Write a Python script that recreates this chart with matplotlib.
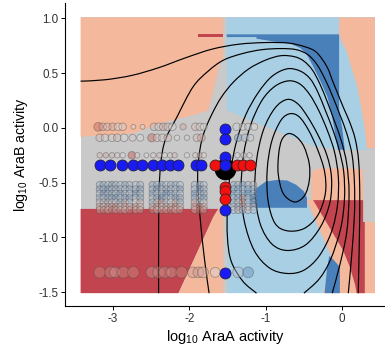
import numpy as np
import matplotlib
matplotlib.use('Agg')
import matplotlib.pyplot as plt
from matplotlib.colors import LinearSegmentedColormap, Normalize
from matplotlib.path import Path
from matplotlib.patches import PathPatch

plt.rcParams['font.family'] = ['Liberation Sans', 'DejaVu Sans']
plt.rcParams['axes.unicode_minus'] = False
plt.rcParams['mathtext.fontset'] = 'custom'
plt.rcParams['mathtext.rm'] = 'Liberation Sans'
plt.rcParams['mathtext.default'] = 'regular'

# ---------------- data ----------------
X0, X1, Y0, Y1 = -3.42, 0.427, -1.51, 1.01

region_colors = {'S': '#F4B89C', 'R': '#C2444F', 'G': '#C9C9C9',
                 'L': '#A8CFE4', 'B': '#4A80BA'}

# decision regions (category, x vertices, y vertices), painted in order
regions = [
    ('G', [X0, X1, X1, X0], [Y0, Y0, Y1, Y1]),
    ('S', [X0, -1.555, -1.555, -1.60, -1.68, -1.75, -1.95, -2.38, -2.73, X0],
          [Y1, Y1, 0.62, 0.59, 0.35, 0.16, 0.116, 0.04, -0.05, -0.08]),
    ('L', [-1.51, X1, X1, -0.05, -0.40, -0.553, -0.988, -1.51],
          [Y1, Y1, -0.20, -0.20, -0.16, -0.113, 0.008, 0.162]),
    ('B', [-1.51, -0.04, -0.04, 0.0, 0.035, -0.055, -0.10, -0.14, -0.19, -0.29,
           -0.40, -0.47, -0.55, -0.68, -0.90, -1.12, -1.12, -1.51],
          [0.855, 0.855, 0.16, 0.0, -0.20, -0.20, -0.02, 0.13, 0.28, 0.435,
           0.59, 0.68, 0.73, 0.77, 0.79, 0.815, 0.83, 0.83]),
    ('R', [-1.89, -1.56, -1.56, -1.89], [0.83, 0.83, 0.856, 0.856]),
    ('S', [-0.04, X1, X1, 0.32, 0.31, 0.28, 0.24, 0.19, 0.12, 0.06, 0.0, -0.04],
          [Y1, Y1, -0.19, -0.19, -0.10, 0.05, 0.22, 0.40, 0.55, 0.70, 0.78, 0.855]),
    ('S', [-0.40, -0.40, -0.36, -0.25, 0.10, 0.274, 0.274, X1, X1, -0.25, -0.12, -0.47],
          [-0.66, -0.42, -0.38, -0.37, -0.37, -0.38, -0.86, -0.86, Y0, Y0, -1.21, -0.66]),
    ('R', [-0.38, 0.274, 0.274, 0.296, 0.296, 0.19, 0.166, 0.10, 0.013, -0.117],
          [-0.66, -0.66, -0.86, -0.86, Y0, Y0, -1.425, -1.27, -1.12, -0.967]),
    ('L', [-1.50, -1.16, -0.47, -0.12, -0.25, -1.50],
          [-0.52, -0.54, -0.66, -1.21, Y0, Y0]),
    ('B', [-1.20, -1.20, -1.12, -1.0, -0.85, -0.72, -0.60, -0.50, -0.46, -0.46],
          [-0.73, -0.64, -0.55, -0.49, -0.475, -0.48, -0.52, -0.58, -0.64, -0.73]),
    ('B', [-0.17, -0.12, -0.03, -0.03, -0.23, -0.20],
          [-1.17, -1.20, -1.27, Y0, Y0, -1.30]),
    ('R', [X0, -1.62, -1.685, -2.14, X0], [-0.74, -0.74, -0.815, Y0, Y0]),
    ('S', [-1.62, -1.555, -1.555, -2.14, -1.685], [-0.74, -0.74, Y0, Y0, -0.815]),
]

# density contour lines (x, y, closed)
contour_lines = [
    ([-3.42, -3.1, -2.75, -2.4, -2.05, -1.7, -1.35, -1.0, -0.7, -0.48, -0.335, -0.2,
      -0.12, -0.05, 0.02, 0.10, 0.17, 0.215, 0.23, 0.225, 0.21],
     [0.427, 0.44, 0.48, 0.55, 0.64, 0.72, 0.765, 0.78, 0.775, 0.74, 0.69, 0.56,
      0.42, 0.30, 0.18, 0.05, -0.10, -0.30, -0.60, -1.0, -1.51], False),
    ([-2.40, -2.40, -2.39, -2.33, -2.16, -1.95, -1.75, -1.55, -1.3, -1.05, -0.8, -0.6,
      -0.45, -0.33, -0.22, -0.12, -0.03, 0.06, 0.13, 0.16, 0.16, 0.12, 0.08],
     [-1.51, -1.0, -0.5, -0.15, 0.10, 0.375, 0.52, 0.62, 0.68, 0.715, 0.725, 0.715,
      0.67, 0.58, 0.44, 0.28, 0.12, -0.05, -0.25, -0.5, -0.8, -1.2, -1.51], False),
    ([-1.74, -1.8, -1.86, -1.89, -1.86, -1.8, -1.7, -1.58, -1.42, -1.22, -1.0, -0.8,
      -0.62, -0.5, -0.39, -0.29, -0.19, -0.1, -0.01, 0.06, 0.09, 0.06, -0.03, -0.13],
     [-1.51, -1.2, -0.8, -0.45, -0.2, -0.03, 0.13, 0.28, 0.42, 0.54, 0.62, 0.66,
      0.65, 0.61, 0.53, 0.40, 0.23, 0.06, -0.12, -0.33, -0.6, -0.95, -1.25, -1.51], False),
    ([-1.12, -1.3, -1.45, -1.5, -1.5, -1.46, -1.38, -1.26, -1.1, -0.92, -0.72, -0.55,
      -0.42, -0.32, -0.22, -0.12, -0.04, 0.02, 0.03, -0.02, -0.15, -0.3, -0.5],
     [-1.51, -1.4, -1.22, -1.0, -0.7, -0.4, -0.12, 0.12, 0.32, 0.47, 0.54, 0.52,
      0.45, 0.33, 0.16, -0.02, -0.2, -0.4, -0.65, -0.92, -1.2, -1.38, -1.51], False),
    ([-0.72, -0.95, -1.15, -1.28, -1.32, -1.29, -1.2, -1.05, -0.88, -0.7, -0.55, -0.42,
      -0.3, -0.19, -0.1, -0.05, -0.06, -0.14, -0.3, -0.5],
     [-1.33, -1.28, -1.12, -0.85, -0.55, -0.25, 0.02, 0.25, 0.38, 0.43, 0.40, 0.30,
      0.15, -0.03, -0.22, -0.45, -0.7, -0.95, -1.17, -1.3], True),
    ([-0.72, -0.92, -1.07, -1.14, -1.12, -1.03, -0.88, -0.72, -0.58, -0.45, -0.32, -0.2,
      -0.14, -0.16, -0.28, -0.48],
     [-1.12, -1.06, -0.88, -0.6, -0.3, -0.02, 0.18, 0.26, 0.22, 0.10, -0.06, -0.25,
      -0.45, -0.68, -0.9, -1.07], True),
    ([-0.72, -0.88, -0.97, -0.98, -0.92, -0.8, -0.68, -0.56, -0.44, -0.32, -0.23, -0.22,
      -0.32, -0.5],
     [-0.94, -0.87, -0.66, -0.38, -0.12, 0.07, 0.13, 0.10, -0.02, -0.2, -0.4, -0.6,
      -0.8, -0.92], True),
    ([-0.62, -0.77, -0.836, -0.83, -0.79, -0.705, -0.6, -0.5, -0.43, -0.43, -0.49],
     [-0.677, -0.6, -0.42, -0.24, -0.11, -0.052, -0.08, -0.17, -0.33, -0.48, -0.616], True),
]

# faint points: rows of strains (y, x list, value list, size list)
row1_y = 0.01
row1_x = [-3.19, -3.13, -3.07, -3.00, -2.93, -2.87, -2.73, -2.61, -2.46, -2.40, -2.34,
          -2.28, -2.22, -2.08, -1.92, -1.86, -1.81, -1.38, -1.30, -1.23, -1.15]
row1_v = [0.7, 0.3, 0.2, 0.3, 0.0, 0.1, 0.0, 0.0, 0.2, 0.1, 0.3, 0.2, 0.0, 0.3, 0.2,
          0.1, 0.0, -0.1, 0.0, -0.1, 0.0]
row1_s = [40, 30, 30, 30, 30, 30, 12, 12, 30, 30, 30, 30, 30, 20, 30, 30, 25, 30, 25, 25, 25]

row2_y = -0.09
row2_x = [-3.17, -3.10, -3.01, -2.94, -2.85, -2.74, -2.64, -2.49, -2.42, -2.35, -2.28,
          -2.16, -2.03, -1.90, -1.84, -1.36, -1.27, -1.20]
row2_v = [0.2, 0.1, 0.1, 0.2, 0.0, 0.1, 0.0, 0.7, 0.2, 0.1, 0.2, 0.0, 0.1, 0.2, 0.3,
          -0.5, -0.3, -0.1]
row2_s = [30, 30, 30, 30, 30, 25, 25, 35, 30, 30, 30, 15, 15, 30, 30, 30, 30, 25]

row3_y = -0.25
row3_x = [-3.17, -3.09, -3.01, -2.94, -2.87, -2.75, -2.68, -2.56, -2.47, -2.39, -2.32,
          -2.25, -2.19, -2.03, -1.92, -1.86, -1.81, -1.37, -1.29, -1.21]
row3_v = [0.2, 0.3, 0.2, 0.1, 0.0, 0.8, 0.1, 0.0, 0.1, 0.2, 0.0, 0.1, 0.2, 0.0, 0.1,
          0.3, 0.0, 0.0, 0.1, 0.0]
row3_s = [15, 15, 15, 15, 15, 30, 15, 12, 15, 15, 15, 15, 15, 15, 15, 15, 15, 15, 15, 15]

cluster_x = [-3.17, -3.12, -3.06, -3.01, -2.96, -2.90, -2.84, -2.78, -2.70, -2.64,
             -2.48, -2.42, -2.36, -2.30, -2.24, -2.18, -2.12, -1.93, -1.86, -1.81,
             -1.42, -1.36, -1.30, -1.23, -1.16]
cluster_y = [-0.52, -0.56, -0.60, -0.64, -0.68, -0.72, -0.75]
cluster_v = [
    [-0.3, -0.4, -0.2, -0.5, -0.3, -0.2, -0.4, -0.3, -0.2, -0.3, -0.4, -0.3, -0.5,
     -0.2, -0.3, -0.4, -0.2, -0.3, -0.5, -0.2, -0.4, -0.3, -0.5, -0.3, -0.2],
    [-0.5, -0.3, -0.6, -0.2, -0.4, -0.3, -0.2, -0.4, -0.3, -0.5, -0.3, -0.6, -0.2,
     -0.4, -0.3, -0.2, -0.5, -0.2, -0.6, -0.3, -0.3, -0.5, -0.2, -0.4, -0.3],
    [-0.2, -0.6, -0.3, -0.4, -0.2, -0.5, -0.3, -0.2, -0.6, -0.3, -0.5, -0.2, -0.3,
     -0.6, -0.4, -0.3, -0.2, -0.6, -0.3, -0.4, -0.5, -0.2, -0.4, -0.6, -0.3],
    [-0.4, -0.2, -0.5, -0.3, -0.6, -0.2, -0.4, -0.5, -0.2, -0.4, -0.2, -0.4, -0.6,
     -0.3, -0.2, -0.5, -0.4, -0.4, -0.2, -0.5, -0.2, -0.4, 0.5, -0.3, -0.4],
    [0.2, -0.3, 0.3, -0.2, 0.1, -0.4, 0.3, -0.2, 0.0, 0.2, -0.3, 0.2, 0.4, -0.2, 0.0,
     0.3, -0.3, 0.3, -0.2, 0.1, -0.3, 0.2, 0.5, -0.2, -0.3],
    [0.4, 0.2, 0.5, 0.3, 0.6, 0.2, 0.4, 0.3, 0.5, 0.2, 0.3, 0.5, 0.2, 0.4, 0.3, 0.6,
     0.2, 0.5, 0.7, 0.3, 0.2, -0.3, 0.4, -0.2, 0.1],
    [0.3, 0.5, 0.2, 0.6, 0.3, 0.4, 0.2, 0.5, 0.3, 0.4, 0.5, 0.2, 0.4, 0.3, 0.5, 0.2,
     0.4, 0.3, 0.6, 0.4, -0.2, 0.3, -0.3, 0.2, -0.2],
]
cluster_s = 25

row4_y = -1.32
row4_x = [-3.17, -3.03, -2.97, -2.86, -2.73, -2.49, -2.40, -2.32, -2.23, -2.10, -1.95,
          -1.88, -1.82, -1.66, -1.36, -1.23]
row4_v = [0.5, 0.5, 0.4, 0.5, 0.5, 0.4, 0.5, 0.5, 0.4, 0.5, 0.4, 0.4, 0.3, 0.0, -0.2, -0.6]
row4_s = [70, 70, 60, 70, 70, 70, 70, 70, 60, 70, 60, 60, 60, 50, 60, 60]

# highlighted single mutants
wt_x, wt_y = -1.532, -0.372
hrow_y = -0.335
hrow_blue_x = [-3.17, -3.03, -2.88, -2.73, -2.62, -2.47, -2.36, -2.25, -2.14, -1.91, -1.84]
hrow_red_x = [-1.66, -1.38, -1.30, -1.21]
hcol_x = -1.532
hcol_blue_y = [-0.006, -0.098, -0.265, -0.34, -0.75, -1.323]
hcol_red_y = [-0.54, -0.58, -0.65]

x_ticks = [-3, -2, -1, 0]
y_ticks = [-1.5, -1.0, -0.5, 0.0, 0.5, 1.0]

# ---------------- figure ----------------
fig = plt.figure(figsize=(3.85, 3.51), dpi=100)
ax = fig.add_axes([0.1696, 0.128, 0.8304, 0.863])
ax.set_xlim(-3.62, 0.56)
ax.set_ylim(-1.628, 1.14)

for cat, xs, ys in regions:
    ax.fill(xs, ys, color=region_colors[cat], lw=0, zorder=0)


def smooth_path(xs, ys, closed):
    P = np.column_stack([xs, ys])
    n = len(P)
    if closed:
        E = np.vstack([P[-1], P, P[0], P[1]])
        segs = n
    else:
        E = np.vstack([P[0], P, P[-1]])
        segs = n - 1
    verts = [E[1]]
    codes = [Path.MOVETO]
    for i in range(segs):
        p0, p1, p2, p3 = E[i], E[i + 1], E[i + 2], E[i + 3]
        verts += [p1 + (p2 - p0) / 6, p2 - (p3 - p1) / 6, p2]
        codes += [Path.CURVE4] * 3
    return Path(verts, codes)


for xs, ys, closed in contour_lines:
    ax.add_patch(PathPatch(smooth_path(xs, ys, closed), fill=False,
                           edgecolor='black', lw=0.85, zorder=2))

cmap = LinearSegmentedColormap.from_list('rb', ['#1F5FA8', '#DADADA', '#C0392B'])
norm = Normalize(-1, 1)
edge = (0.3, 0.3, 0.3, 0.45)


def faint(xs, ys, vs, ss):
    fc = cmap(norm(np.asarray(vs, float)))
    fc[:, 3] = 0.45
    ax.scatter(xs, ys, s=ss, c=fc, edgecolors=[edge], linewidths=0.6, zorder=3)


faint(row1_x, [row1_y] * len(row1_x), row1_v, row1_s)
faint(row2_x, [row2_y] * len(row2_x), row2_v, row2_s)
faint(row3_x, [row3_y] * len(row3_x), row3_v, row3_s)
for yy, vv in zip(cluster_y, cluster_v):
    faint(cluster_x, [yy] * len(cluster_x), vv, [cluster_s] * len(cluster_x))
faint(row4_x, [row4_y] * len(row4_x), row4_v, row4_s)

ax.scatter([wt_x], [wt_y], s=210, c='black', edgecolors='black', zorder=4)
ax.scatter(hrow_blue_x, [hrow_y] * len(hrow_blue_x), s=62, c='#1A1AF5',
           edgecolors='#202040', linewidths=0.6, zorder=5)
ax.scatter(hrow_red_x, [hrow_y] * len(hrow_red_x), s=62, c='#F51010',
           edgecolors='#402020', linewidths=0.6, zorder=5)
ax.scatter([hcol_x] * len(hcol_blue_y), hcol_blue_y, s=62, c='#1A1AF5',
           edgecolors='#202040', linewidths=0.6, zorder=5)
ax.scatter([hcol_x] * len(hcol_red_y), hcol_red_y, s=62, c='#F51010',
           edgecolors='#402020', linewidths=0.6, zorder=5)

for side in ['top', 'right']:
    ax.spines[side].set_visible(False)
for side in ['left', 'bottom']:
    ax.spines[side].set_linewidth(0.8)
ax.set_xticks(x_ticks)
ax.set_xticklabels([str(t) for t in x_ticks])
ax.set_yticks(y_ticks)
ax.set_yticklabels(['%.1f' % t for t in y_ticks])
ax.tick_params(length=3, width=0.7, labelsize=8.4, labelcolor='#333333', pad=2)
ax.set_xlabel('log$_{10}$ AraA activity', fontsize=10.5, labelpad=2)
ax.set_ylabel('log$_{10}$ AraB activity', fontsize=10.2, labelpad=6)

fig.savefig('out.png', dpi=100)
